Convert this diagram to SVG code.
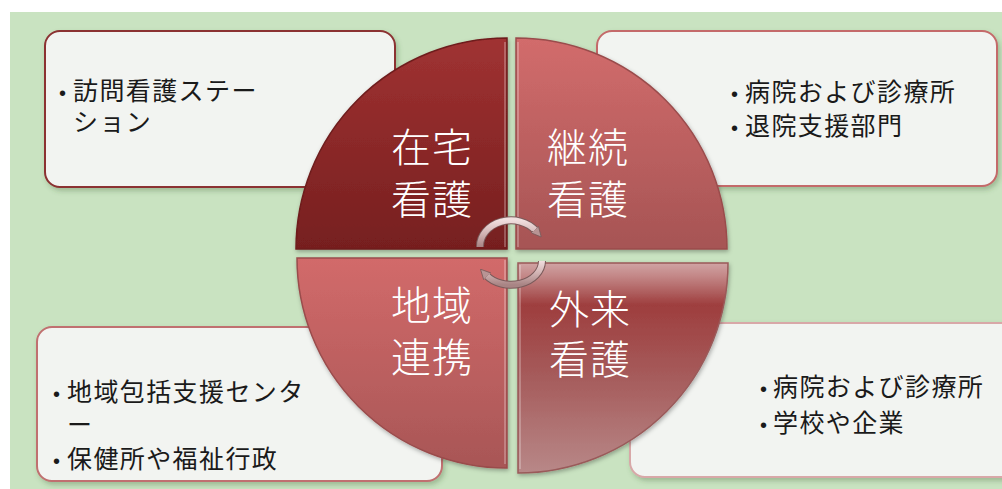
<svg xmlns="http://www.w3.org/2000/svg" width="1002" height="489" viewBox="0 0 1002 489">
<defs>
<style>
.box{fill:#f2f4f1;stroke-width:2;filter:url(#sh)}
.bt{font-family:"Noto Sans CJK JP","Noto Sans",sans-serif;font-size:25px;fill:#1a1a1a;letter-spacing:1.4px}
.bu{font-family:"Liberation Sans",sans-serif;font-size:20px;fill:#1a1a1a}
.qt{font-family:"Noto Sans CJK JP","Noto Sans",sans-serif;font-size:40px;fill:#ffffff;letter-spacing:1px;font-weight:300}
.q{stroke-width:1.5;filter:url(#qs)}
.hl{fill:none;stroke:#ffffff;stroke-opacity:0.25;stroke-width:2}
.arcbg{fill:none;stroke:#7a5a5a;stroke-width:8}
.arc{fill:none;stroke:url(#ag);stroke-width:6}
</style>
<filter id="sh" x="-10%" y="-10%" width="120%" height="125%">
<feDropShadow dx="2" dy="3" stdDeviation="2.5" flood-color="#3a5a30" flood-opacity="0.3"/>
</filter>
<filter id="qs" x="-10%" y="-10%" width="120%" height="120%">
<feDropShadow dx="1" dy="2" stdDeviation="2" flood-color="#000" flood-opacity="0.3"/>
</filter>
<linearGradient id="g1" x1="0" y1="0" x2="0" y2="1">
<stop offset="0" stop-color="#a03232"/><stop offset="1" stop-color="#761f1f"/>
</linearGradient>
<linearGradient id="g2" x1="0" y1="0" x2="0" y2="1">
<stop offset="0" stop-color="#d26c6c"/><stop offset="1" stop-color="#a65454"/>
</linearGradient>
<linearGradient id="g3" x1="0" y1="0" x2="0" y2="1">
<stop offset="0" stop-color="#d26a6a"/><stop offset="1" stop-color="#a85656"/>
</linearGradient>
<linearGradient id="g4" x1="0" y1="0" x2="0" y2="1">
<stop offset="0" stop-color="#d0a4a4"/><stop offset="0.06" stop-color="#c48888"/><stop offset="0.2" stop-color="#9e3e3e"/><stop offset="0.55" stop-color="#a65c5c"/><stop offset="1" stop-color="#b88888"/>
</linearGradient>
<linearGradient id="ag" x1="0" y1="0" x2="0" y2="1">
<stop offset="0" stop-color="#f0dede"/><stop offset="0.5" stop-color="#d2b4b4"/><stop offset="1" stop-color="#a88484"/>
</linearGradient>
<marker id="ah" viewBox="0 0 10 10" refX="2" refY="5" markerWidth="10" markerHeight="10" orient="auto" markerUnits="userSpaceOnUse">
<path d="M0,0 L10,5 L0,10 Z" fill="#b89494" stroke="#7a5a5a" stroke-width="0.8"/>
</marker>
</defs>

<rect x="0" y="0" width="1002" height="489" fill="#ffffff"/>
<rect x="10" y="12" width="992" height="477" fill="#c9e3c1"/>

<g id="box-home">
<rect class="box" x="45" y="31" width="350" height="156" rx="15" stroke="#8b3232"/>
<text class="bt" y="100"><tspan class="bu" x="59">•</tspan><tspan x="73">訪問看護ステー</tspan></text>
<text class="bt" x="73" y="131">ション</text>
</g>
<g id="box-continuing">
<rect class="box" x="597" y="31" width="400" height="155" rx="15" stroke="#c46a6a"/>
<text class="bt" y="101"><tspan class="bu" x="731">•</tspan><tspan x="745">病院および診療所</tspan></text>
<text class="bt" y="135"><tspan class="bu" x="731">•</tspan><tspan x="745">退院支援部門</tspan></text>
</g>
<g id="box-community">
<rect class="box" x="37" y="327" width="405" height="154" rx="15" stroke="#c07070"/>
<text class="bt" y="401"><tspan class="bu" x="53">•</tspan><tspan x="67">地域包括支援センタ</tspan></text>
<text class="bt" x="67" y="434">ー</text>
<text class="bt" y="468"><tspan class="bu" x="53">•</tspan><tspan x="67">保健所や福祉行政</tspan></text>
</g>
<g id="box-outpatient">
<rect class="box" x="630" y="323" width="390" height="154" rx="15" stroke="#d8a8a8"/>
<text class="bt" y="396"><tspan class="bu" x="760">•</tspan><tspan x="773">病院および診療所</tspan></text>
<text class="bt" y="432"><tspan class="bu" x="760">•</tspan><tspan x="773">学校や企業</tspan></text>
</g>

<g id="q-home">
<path class="q" d="M507,249 L296,249 A211,211 0 0 1 507,38 Z" fill="url(#g1)" stroke="#6e1c1c"/>
<path class="hl" d="M505,42 L505,247"/>
<text class="qt" x="391" y="162">在宅</text>
<text class="qt" x="391" y="214">看護</text>
</g>
<g id="q-continuing">
<path class="q" d="M516,249 L516,38 A211,211 0 0 1 727,249 Z" fill="url(#g2)" stroke="#9a4c4c"/>
<path class="hl" d="M518,42 L518,247"/>
<text class="qt" x="547" y="162">継続</text>
<text class="qt" x="547" y="214">看護</text>
</g>
<g id="q-community">
<path class="q" d="M507,258 L507,468 A210,210 0 0 1 297,258 Z" fill="url(#g3)" stroke="#9a4c4c"/>
<path class="hl" d="M505,260 L505,464" stroke-opacity="0.4"/>
<text class="qt" x="391" y="320">地域</text>
<text class="qt" x="391" y="372">連携</text>
</g>
<g id="q-outpatient">
<path class="q" d="M518,263 L728,263 A210,210 0 0 1 518,473 Z" fill="url(#g4)" stroke="#9a5a5a"/>
<path class="hl" d="M520,265 L520,469"/>
<text class="qt" x="549" y="324">外来</text>
<text class="qt" x="549" y="374">看護</text>
</g>

<g id="connectors">
<path class="arcbg" d="M480,247 A31,26 0 0 1 536,231"/>
<path class="arc" d="M480,247 A31,26 0 0 1 536,231" marker-end="url(#ah)"/>
<path class="arcbg" d="M542,261 A31,24 0 0 1 486,275"/>
<path class="arc" d="M542,261 A31,24 0 0 1 486,275" marker-end="url(#ah)"/>
</g>
</svg>
